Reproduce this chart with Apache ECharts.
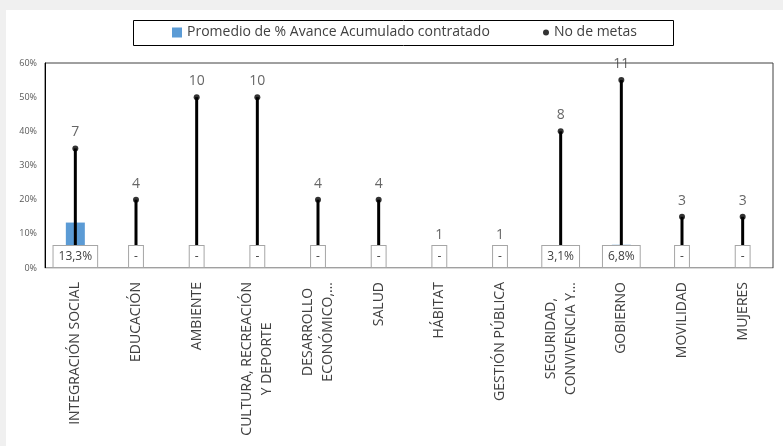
<!DOCTYPE html>
<html>
<head>
<meta charset="utf-8">
<script src="https://cdn.jsdelivr.net/npm/echarts@6/dist/echarts.min.js"></script>
<style>
html,body{margin:0;padding:0;background:#f0f0f0;width:783px;height:446px;overflow:hidden;}
#c{position:absolute;left:6px;top:10px;width:777px;height:436px;background:#ffffff;}
</style>
</head>
<body>
<div id="c"></div>
<script>
// Data
var categories = [
  'INTEGRACIÓN SOCIAL',
  'EDUCACIÓN',
  'AMBIENTE',
  'CULTURA, RECREACIÓN\nY DEPORTE',
  'DESARROLLO\nECONÓMICO,…',
  'SALUD',
  'HÁBITAT',
  'GESTIÓN PÚBLICA',
  'SEGURIDAD,\nCONVIVENCIA Y…',
  'GOBIERNO',
  'MOVILIDAD',
  'MUJERES'
];
var avancePct = [13.3, 0, 0, 0, 0, 0, 0, 0, 3.1, 6.8, 0, 0];   // Promedio de % Avance Acumulado contratado
var noMetas = [7, 4, 10, 10, 4, 4, 1, 1, 8, 11, 3, 3];         // No de metas
var yTicks = [0, 10, 20, 30, 40, 50, 60];

var nameAvance = 'Promedio de % Avance Acumulado contratado';
var nameMetas = 'No de metas';
var FONT = "'Open Sans', 'Noto Sans', sans-serif";
var TXT = '#404040';

var chart = echarts.init(document.getElementById('c'));
chart.setOption({
  animation: false,
  backgroundColor: '#ffffff',
  textStyle: { fontFamily: FONT },
  graphic: [{
    type: 'rect', left: 127, top: 10, z: -1,
    shape: { width: 540, height: 25 },
    style: { fill: '#ffffff', stroke: '#000000', lineWidth: 1 }
  }],
  legend: [{
    data: [{ name: nameAvance, icon: 'rect' }],
    left: 166, top: 14, padding: 0,
    itemWidth: 10, itemHeight: 10,
    textStyle: { fontSize: 14, color: TXT, fontFamily: FONT, lineHeight: 17 },
    selectedMode: false
  }, {
    data: [{ name: nameMetas, icon: 'circle' }],
    left: 537, top: 14, padding: 0,
    itemWidth: 6, itemHeight: 6,
    textStyle: { fontSize: 14, color: TXT, fontFamily: FONT, lineHeight: 17 },
    selectedMode: false
  }],
  grid: {
    left: 39, right: 10, top: 53, bottom: 178,
    show: true, borderColor: '#404040', borderWidth: 1, backgroundColor: 'transparent'
  },
  xAxis: [{
    type: 'category',
    data: categories,
    axisLine: { show: true, lineStyle: { color: '#d9d9d9', width: 1 } },
    axisTick: { show: false },
    axisLabel: {
      interval: 0, rotate: 90, margin: 14,
      formatter: function (v) {
        return v.split('\n').map(function (s) { return '{c|' + s + '}'; }).join('\n');
      },
      rich: {
        c: { align: 'center', fontSize: 14, color: TXT, fontFamily: FONT, lineHeight: 20 }
      }
    }
  }, {
    type: 'category',
    data: categories,
    show: false
  }],
  yAxis: [{
    type: 'value',
    min: 0, max: 60, interval: 10,
    axisLine: { show: true, lineStyle: { color: '#000000', width: 1 } },
    axisTick: { show: false },
    splitLine: { show: false },
    axisLabel: { formatter: '{value}%', fontSize: 9, color: '#595959', margin: 8, fontFamily: FONT }
  }, {
    type: 'value',
    min: 0, max: 12,
    show: false,
    splitLine: { show: false }
  }],
  series: [{
    name: nameAvance,
    type: 'bar',
    xAxisIndex: 0, yAxisIndex: 0,
    data: avancePct,
    barWidth: 19,
    barGap: '-100%',
    itemStyle: { color: '#5b9bd5' },
    z: 2
  }, {
    name: 'metasLine',
    type: 'bar',
    xAxisIndex: 1, yAxisIndex: 1,
    data: noMetas,
    barWidth: 3,
    itemStyle: { color: '#000000' },
    silent: true,
    z: 3
  }, {
    name: nameMetas,
    type: 'scatter',
    xAxisIndex: 1, yAxisIndex: 1,
    data: noMetas,
    symbol: 'circle',
    symbolSize: 6,
    itemStyle: { color: '#000000' },
    label: {
      show: true, position: 'top', distance: 6,
      fontSize: 14, color: TXT, fontFamily: FONT
    },
    z: 4
  }, {
    name: 'avanceLabels',
    type: 'bar',
    xAxisIndex: 0, yAxisIndex: 0,
    data: avancePct,
    barWidth: 19,
    barGap: '-100%',
    silent: true,
    itemStyle: { color: 'rgba(0,0,0,0)' },
    label: {
      show: true, position: 'insideBottom', distance: 1,
      formatter: function (p) {
        return p.value === 0 ? '-' : String(p.value).replace('.', ',') + '%';
      },
      fontSize: 12, lineHeight: 16, color: TXT, fontFamily: FONT,
      backgroundColor: '#ffffff', borderColor: '#a6a6a6', borderWidth: 1,
      padding: [3, 5, 2, 5]
    },
    z: 6
  }]
});
</script>
</body>
</html>
